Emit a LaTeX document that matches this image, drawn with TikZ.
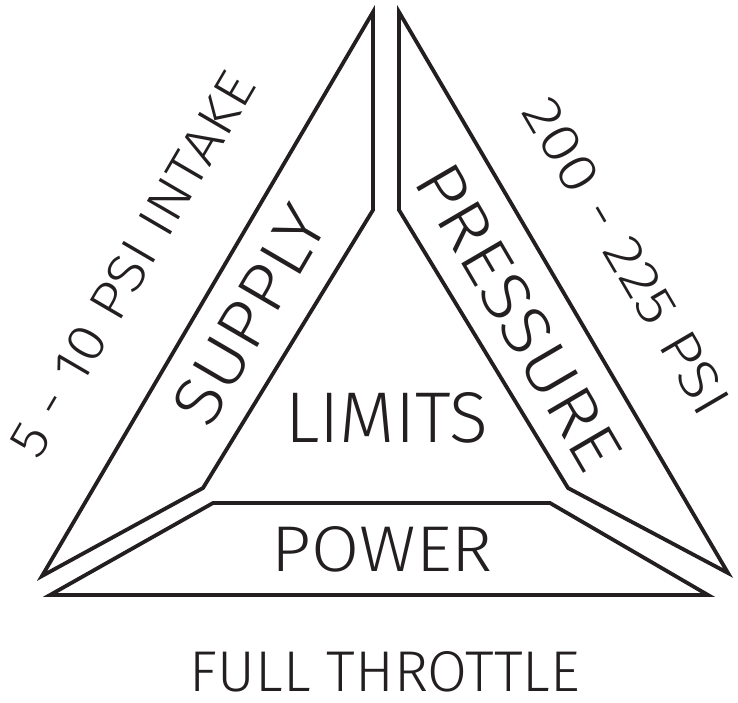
\documentclass[tikz,border=0pt]{standalone}
\usepackage{fontspec}
\usepackage{graphicx}
\setmainfont{Fira Sans Light}
\definecolor{ink}{RGB}{35,31,32}
\begin{document}
\begin{tikzpicture}[x=1pt,y=-1pt,
  panel/.style={draw=ink, line width=3.8pt, line join=miter, miter limit=20},
  lbl/.style={inner sep=0pt, outer sep=0pt, text=ink}]
\useasboundingbox (0,0) rectangle (738,702);
% panels
\draw[panel] (373,12) -- (42,576) -- (203,488) -- (373,210) -- cycle;
\draw[panel] (399,12) -- (728,573) -- (568,488) -- (399,210) -- cycle;
\draw[panel] (50,595) -- (213,503) -- (550,503) -- (708,595) -- cycle;
% labels
\node[lbl] (limits) at (386.7,418.3) {\resizebox{203pt}{50pt}{LIMITS}};
\node[lbl] (power) at (382.5,549.5) {\resizebox{221pt}{45pt}{POWER}};
\node[lbl] (throttle) at (385,671.7) {\resizebox{390pt}{40pt}{FULL THROTTLE}};
\node[lbl, rotate=59.7] (supply) at (249.6,314.9) {\resizebox{240pt}{47pt}{SUPPLY}};
\node[lbl, rotate=-59.7] (pressure) at (518.8,316.8) {\resizebox{343pt}{46.6pt}{PRESSURE}};
\node[lbl, rotate=59.7] (intake) at (132.2,264.5) {\resizebox{435pt}{37pt}{5 - 10 PSI INTAKE}};
\node[lbl, rotate=-59.7] (psi) at (626.8,255.9) {\resizebox{357pt}{37.6pt}{200 - 225 PSI}};
\end{tikzpicture}
\end{document}
